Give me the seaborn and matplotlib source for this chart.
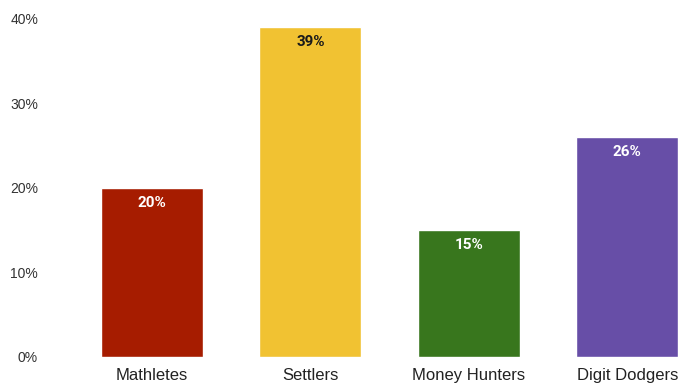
import matplotlib
matplotlib.use("Agg")
import matplotlib.pyplot as plt
import seaborn as sns
import pandas as pd

# Share of respondents by group
categories = ["Mathletes", "Settlers", "Money Hunters", "Digit Dodgers"]
shares = [20, 39, 15, 26]
colors = ["#A61C00", "#F1C232", "#38761D", "#674EA7"]
label_colors = ["white", "#1a1a1a", "white", "white"]
y_ticks = [0, 10, 20, 30, 40]

df = pd.DataFrame({"group": categories, "share": shares})

sns.set_theme(style="white")
plt.rcParams["font.family"] = ["Liberation Sans", "DejaVu Sans"]

fig = plt.figure(figsize=(6.78, 3.83), dpi=100)
ax = fig.add_axes([45 / 678, 26 / 383, 1 - 45 / 678, 338 / 383])

sns.barplot(data=df, x="group", y="share", hue="group", palette=colors,
            order=categories, hue_order=categories, width=0.643,
            legend=False, ax=ax, saturation=1)

for patch, val, tc in zip(ax.patches, shares, label_colors):
    cx = patch.get_x() + patch.get_width() / 2
    ax.annotate(f"{val}%", (cx, val), xytext=(0, -10.5), textcoords="offset points",
                ha="center", va="center", color=tc, fontsize=11,
                fontweight="bold", family=["Roboto", "DejaVu Sans"])

ax.set_ylim(0, 40)
ax.set_xlim(-0.675, 3.32)
ax.set_yticks(y_ticks)
ax.set_yticklabels([f"{t}%" for t in y_ticks], fontsize=10, color="#333333")
ax.tick_params(axis="y", length=0, pad=5)
ax.tick_params(axis="x", length=0, pad=8, labelsize=12, labelcolor="#222222")
ax.set_xlabel("")
ax.set_ylabel("")
for s in ax.spines.values():
    s.set_visible(False)
ax.grid(False)

fig.savefig("out.png", dpi=100)
